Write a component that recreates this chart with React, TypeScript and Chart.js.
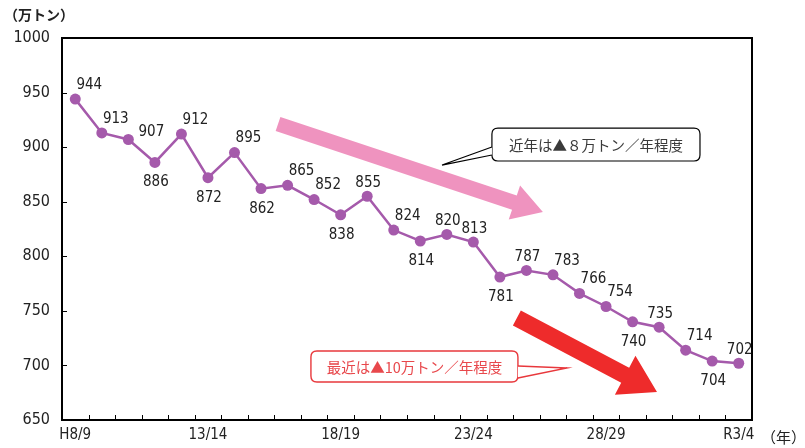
import React, { useEffect, useRef } from "react";
import { Chart, registerables } from "chart.js";

Chart.register(...registerables);

const categories = [
  "H8/9", "9/10", "10/11", "11/12", "12/13", "13/14", "14/15", "15/16", "16/17", "17/18",
  "18/19", "19/20", "20/21", "21/22", "22/23", "23/24", "24/25", "25/26", "26/27", "27/28",
  "28/29", "29/30", "30/R1", "R1/2", "R2/3", "R3/4",
];
const values = [944, 913, 907, 886, 912, 872, 895, 862, 865, 852, 838, 855, 824, 814, 820, 813, 781, 787, 783, 766, 754, 740, 735, 714, 704, 702];
// label placement codes: u = upper-right, a = above, b = below, r = right
const labelPlacement = ["u", "u", "r", "b", "u", "b", "u", "b", "u", "u", "b", "a", "u", "b", "a", "a", "b", "a", "u", "u", "u", "b", "a", "u", "b", "a"];
const yTicks = [650, 700, 750, 800, 850, 900, 950, 1000];
const yTitle = "（万トン）";
const xTitle = "（年）";
const callout1 = "近年は▲８万トン／年程度";
const callout2 = "最近は▲10万トン／年程度";

const NUM_FONT = '"Liberation Sans Narrow", "DejaVu Sans Condensed", "Arial Narrow", sans-serif';
const JP_FONT = '"Noto Sans CJK JP", sans-serif';

function drawArrow(ctx: CanvasRenderingContext2D, x1: number, y1: number, x2: number, y2: number, shaft: number, headLen: number, headW: number, color: string) {
  const ang = Math.atan2(y2 - y1, x2 - x1);
  const len = Math.hypot(x2 - x1, y2 - y1);
  ctx.save();
  ctx.translate(x1, y1);
  ctx.rotate(ang);
  ctx.fillStyle = color;
  ctx.beginPath();
  ctx.moveTo(0, -shaft / 2);
  ctx.lineTo(len - headLen, -shaft / 2);
  ctx.lineTo(len - headLen, -headW / 2);
  ctx.lineTo(len, 0);
  ctx.lineTo(len - headLen, headW / 2);
  ctx.lineTo(len - headLen, shaft / 2);
  ctx.lineTo(0, shaft / 2);
  ctx.closePath();
  ctx.fill();
  ctx.restore();
}

function roundRectPath(ctx: CanvasRenderingContext2D, x: number, y: number, w: number, h: number, r: number) {
  ctx.beginPath();
  ctx.moveTo(x + r, y);
  ctx.lineTo(x + w - r, y);
  ctx.quadraticCurveTo(x + w, y, x + w, y + r);
  ctx.lineTo(x + w, y + h - r);
  ctx.quadraticCurveTo(x + w, y + h, x + w - r, y + h);
  ctx.lineTo(x + r, y + h);
  ctx.quadraticCurveTo(x, y + h, x, y + h - r);
  ctx.lineTo(x, y + r);
  ctx.quadraticCurveTo(x, y, x + r, y);
  ctx.closePath();
}

const decorPlugin = {
  id: "decor",
  afterDatasetsDraw(chart: any) {
    const ctx: CanvasRenderingContext2D = chart.ctx;
    const { left, right, top, bottom } = chart.chartArea;
    const xs = chart.scales.x;
    const ys = chart.scales.y;
    const px = (i: number) => xs.getPixelForValue(i);
    const py = (v: number) => ys.getPixelForValue(v);

    ctx.save();
    // frame
    ctx.strokeStyle = "#000";
    ctx.lineWidth = 2;
    ctx.strokeRect(left, top, right - left, bottom - top);
    // inward ticks
    ctx.lineWidth = 1;
    ctx.beginPath();
    const step = (right - left) / categories.length;
    for (let i = 1; i < categories.length; i++) {
      const x = Math.round(left + step * i) + 0.5;
      ctx.moveTo(x, bottom);
      ctx.lineTo(x, bottom - 5);
    }
    yTicks.forEach((v) => {
      const y = Math.round(py(v)) + 0.5;
      ctx.moveTo(left, y);
      ctx.lineTo(left + 5, y);
    });
    ctx.stroke();

    // arrows
    drawArrow(ctx, px(7.64), py(921.2), px(17.62), py(840.6), 15, 30, 36, "#ef93bf");
    drawArrow(ctx, px(16.64), py(743.5), px(21.92), py(675.6), 17, 36, 44, "#ee2b2b");

    // callout 1
    {
      const x1 = px(15.7), x2 = px(23.54), y1 = py(917.5), y2 = py(887.3);
      ctx.fillStyle = "#fff";
      roundRectPath(ctx, x1, y1, x2 - x1, y2 - y1, 6);
      ctx.fill();
      ctx.strokeStyle = "#000";
      ctx.lineWidth = 1.2;
      ctx.stroke();
      ctx.beginPath();
      ctx.moveTo(x1, py(900.1));
      ctx.lineTo(px(13.82), py(883.6));
      ctx.lineTo(x1, py(892.8));
      ctx.closePath();
      ctx.fill();
      ctx.beginPath();
      ctx.moveTo(x1, py(900.1));
      ctx.lineTo(px(13.82), py(883.6));
      ctx.lineTo(x1, py(892.8));
      ctx.stroke();
      ctx.font = `14.5px ${JP_FONT}`;
      ctx.fillStyle = "#3a3a3a";
      ctx.textAlign = "center";
      ctx.textBaseline = "middle";
      ctx.fillText(callout1, (x1 + x2) / 2, (y1 + y2) / 2 + 1);
    }
    // callout 2
    {
      const x1 = px(8.88), x2 = px(16.68), y1 = py(713.2), y2 = py(684.8);
      ctx.fillStyle = "#fff";
      roundRectPath(ctx, x1, y1, x2 - x1, y2 - y1, 6);
      ctx.fill();
      ctx.strokeStyle = "#e8383c";
      ctx.lineWidth = 1.4;
      ctx.stroke();
      ctx.beginPath();
      ctx.moveTo(x2, py(699.5));
      ctx.lineTo(px(18.53), py(697.6));
      ctx.lineTo(x2, py(688.5));
      ctx.closePath();
      ctx.fill();
      ctx.beginPath();
      ctx.moveTo(x2, py(699.5));
      ctx.lineTo(px(18.53), py(697.6));
      ctx.lineTo(x2, py(688.5));
      ctx.stroke();
      ctx.font = `14.5px ${JP_FONT}`;
      ctx.fillStyle = "#e8484c";
      ctx.textAlign = "center";
      ctx.textBaseline = "middle";
      ctx.fillText(callout2, (x1 + x2) / 2, (y1 + y2) / 2 + 1);
    }

    // data labels
    ctx.font = `15px ${NUM_FONT}`;
    ctx.fillStyle = "#222";
    ctx.textAlign = "center";
    ctx.textBaseline = "middle";
    const meta = chart.getDatasetMeta(0);
    meta.data.forEach((pt: any, i: number) => {
      const p = labelPlacement[i];
      let dx = 0, dy = 0;
      if (p === "u") { dx = 14; dy = -14; }
      else if (p === "a") { dx = 1; dy = -13; }
      else if (p === "b") { dx = 1; dy = 20; }
      else if (p === "r") { dx = 23; dy = -7; }
      ctx.fillText(String(values[i]), pt.x + dx, pt.y + dy);
    });

    // titles
    ctx.font = `bold 14px ${JP_FONT}`;
    ctx.fillStyle = "#222";
    ctx.textAlign = "left";
    ctx.fillText(yTitle, 4, 15);
    ctx.font = `15px ${JP_FONT}`;
    ctx.fillText(xTitle, right + 9, bottom + 17);
    ctx.restore();
  },
};

export default function App() {
  const ref = useRef<HTMLCanvasElement>(null);
  useEffect(() => {
    document.body.style.margin = "0";
    const chart = new Chart(ref.current!, {
      type: "line",
      data: {
        labels: categories,
        datasets: [
          {
            data: values,
            borderColor: "#a55aab",
            backgroundColor: "#a55aab",
            borderWidth: 2.5,
            pointRadius: 5.5,
            pointBackgroundColor: "#a55aab",
            pointBorderWidth: 0,
            tension: 0,
          },
        ],
      },
      options: {
        responsive: false,
        animation: false,
        devicePixelRatio: 1,
        layout: { padding: { top: 38, right: 53, left: 0, bottom: 0 } },
        plugins: { legend: { display: false }, tooltip: { enabled: false } },
        scales: {
          x: {
            offset: true,
            grid: { display: false, drawTicks: false, offset: true },
            border: { display: false },
            afterFit: (s: any) => { s.height = 28; },
            ticks: {
              autoSkip: false,
              maxRotation: 0,
              padding: 6,
              color: "#222",
              font: { family: NUM_FONT, size: 15 },
              callback: (_v: any, i: number) => (i % 5 === 0 ? categories[i] : ""),
            },
          },
          y: {
            min: 650,
            max: 1000,
            grid: { display: false, drawTicks: false },
            border: { display: false },
            afterFit: (s: any) => { s.width = 62; },
            ticks: {
              stepSize: 50,
              padding: 12,
              color: "#222",
              font: { family: NUM_FONT, size: 16 },
              callback: (v: any) => String(v),
            },
          },
        },
      },
      plugins: [decorPlugin],
    });
    return () => chart.destroy();
  }, []);
  return (
    <div style={{ position: "absolute", left: 0, top: 0, width: 805, height: 448, background: "#fff" }}>
      <canvas ref={ref} width={805} height={448} style={{ width: 805, height: 448 }} />
    </div>
  );
}
